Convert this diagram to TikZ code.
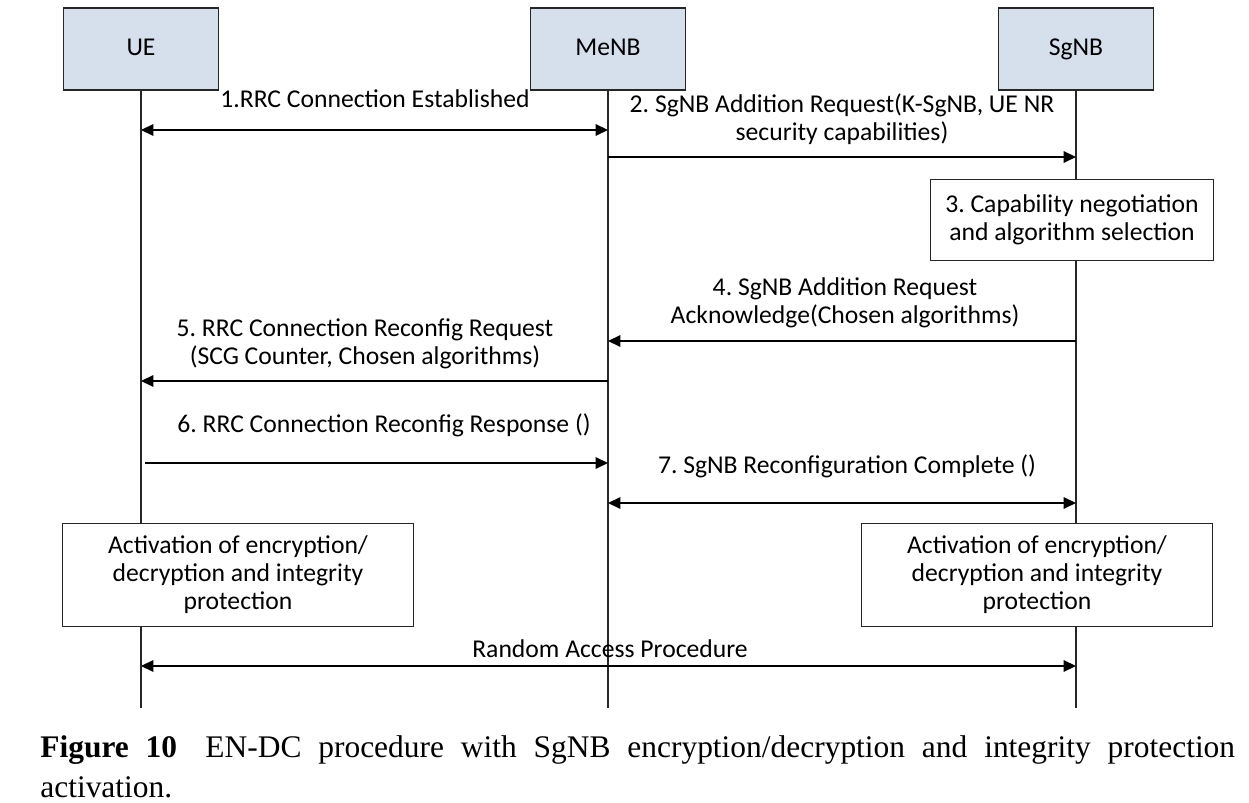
\documentclass[tikz,border=0pt]{standalone}
\usepackage{fontspec}
\setmainfont{Carlito}
\newfontfamily\capfont{Liberation Serif}
\usepackage{tikz}
\usetikzlibrary{arrows.meta,positioning}
\definecolor{headfill}{HTML}{D6E0EC}
\frenchspacing

\begin{document}
\begin{tikzpicture}[
    x=0.02cm, y=-0.02cm,
    head/.style={fill=headfill, draw=black!85, line width=0.9pt, minimum width=3.1cm, minimum height=1.64cm, text height=10pt, text depth=3pt, font=\fontsize{14.6}{16}\selectfont},
    stepbox/.style={fill=white, draw=black!85, line width=0.9pt, align=center, font=\fontsize{14.6}{16}\selectfont},
    life/.style={draw=black!85, line width=0.9pt},
    msg/.style={-{Triangle[length=7pt,width=6.5pt]}, line width=0.85pt, black},
    bimsg/.style={{Triangle[length=7pt,width=6.5pt]}-{Triangle[length=7pt,width=6.5pt]}, line width=0.85pt, black},
    msglabel/.style={align=center, font=\fontsize{14.6}{16}\selectfont, inner sep=0pt}
]
\useasboundingbox (0,0) rectangle (1249,803);

% Entities
\node[head] (ue) at (141,49) {UE};
\node[head] (menb) at (608,49) {MeNB};
\node[head] (sgnb) at (1076,49) {SgNB};

% Lifelines
\coordinate (ueEnd) at (141,708);
\coordinate (menbEnd) at (608,708);
\coordinate (sgnbEnd) at (1076,708);
\draw[life] (ue) -- (ueEnd);
\draw[life] (menb) -- (menbEnd);
\draw[life] (sgnb) -- (sgnbEnd);

% 1. RRC connection
\node[msglabel] (m1) at (375,99) {1.RRC Connection Established};
\draw[bimsg] (ue |- 0,130) -- (menb |- 0,130);

% 2. SgNB addition request
\node[msglabel] (m2) at (842,119) {2. SgNB Addition Request(K-SgNB, UE NR\\security capabilities)};
\draw[msg] (menb |- 0,157) -- (sgnb |- 0,157);

% 3. Negotiation box
\node[stepbox, minimum width=5.66cm, minimum height=1.62cm] (neg) at (1072,220)
    {3. Capability negotiation\\and algorithm selection};

% 4. Acknowledge
\node[msglabel] (m4) at (845,303) {4. SgNB Addition Request\\Acknowledge(Chosen algorithms)};
\draw[msg] (sgnb |- 0,341) -- (menb |- 0,341);

% 5. Reconfig request
\node[msglabel] (m5) at (365,344) {5. RRC Connection Reconfig Request\\(SCG Counter, Chosen algorithms)};
\draw[msg] (menb |- 0,381) -- (ue |- 0,381);

% 6. Reconfig response
\node[msglabel] (m6) at (384,425) {6. RRC Connection Reconfig Response ()};
\draw[msg] ([xshift=2.5pt]ue |- 0,463) -- (menb |- 0,463);

% 7. Reconfiguration complete
\node[msglabel] (m7) at (847,466) {7. SgNB Reconfiguration Complete ()};
\draw[bimsg] (menb |- 0,503) -- (sgnb |- 0,503);

% Activation boxes
\node[stepbox, minimum width=7.02cm, minimum height=2.06cm] (actUE) at (238,575)
    {Activation of encryption/\\decryption and integrity\\protection};
\node[stepbox, minimum width=7.02cm, minimum height=2.06cm] (actSg) at (1037,575)
    {Activation of encryption/\\decryption and integrity\\protection};

% Random access
\node[msglabel] (ra) at (610,649) {Random Access Procedure};
\draw[bimsg] (ue |- 0,666) -- (sgnb |- 0,666);

% Caption
\node[anchor=north west, inner sep=0pt, text width=23.9cm, align=justify,
      font=\capfont\fontsize{17.9}{22.7}\selectfont] (cap) at (40,735)
    {\textbf{Figure 10}\hspace{0.9em}EN-DC procedure with SgNB encryption/decryption and integrity protection\linebreak activation.};

\end{tikzpicture}
\end{document}
